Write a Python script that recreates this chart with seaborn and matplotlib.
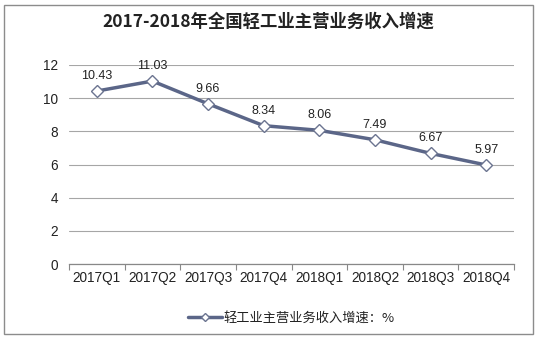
import matplotlib
matplotlib.use("Agg")
import matplotlib.pyplot as plt
import seaborn as sns
import pandas as pd
from matplotlib.patches import Rectangle

quarters = ["2017Q1", "2017Q2", "2017Q3", "2017Q4", "2018Q1", "2018Q2", "2018Q3", "2018Q4"]
growth = [10.43, 11.03, 9.66, 8.34, 8.06, 7.49, 6.67, 5.97]
series_name = "轻工业主营业务收入增速：%"
title = "2017-2018年全国轻工业主营业务收入增速"

sns.set_theme(style="white")
plt.rcParams["font.family"] = ["Noto Sans CJK SC", "DejaVu Sans"]

df = pd.DataFrame({"quarter": quarters, "growth": growth})
df["pos"] = range(len(quarters))

fig = plt.figure(figsize=(5.37, 3.38), dpi=100)
ax = fig.add_axes([69 / 537, 1 - 264 / 338, (514 - 69) / 537, (264 - 65) / 338])

line_color = "#5b6688"
sns.lineplot(data=df, x="pos", y="growth", ax=ax, color=line_color, linewidth=2.5,
             marker="D", markersize=6, markerfacecolor="white",
             markeredgecolor="#6b7490", markeredgewidth=1.0, label=series_name)

for x, y in zip(df["pos"], df["growth"]):
    ax.text(x, y + 0.55, f"{y:.2f}", ha="center", va="bottom", fontsize=9,
            color="#222222", family="Liberation Sans")

ax.set_xlim(-0.5, len(quarters) - 0.5)
ax.set_ylim(0, 12)
ax.set_yticks(range(0, 13, 2))
ax.set_xticks(range(len(quarters)))
ax.set_xticklabels(quarters)
ax.set_xlabel("")
ax.set_ylabel("")
for lbl in ax.get_xticklabels() + ax.get_yticklabels():
    lbl.set_family("Liberation Sans")
    lbl.set_fontsize(9.8)
    lbl.set_color("#222222")

ax.grid(axis="y", color="#a6a6a6", linewidth=0.8)
ax.set_axisbelow(True)
for side in ["top", "right", "left"]:
    ax.spines[side].set_visible(False)
ax.spines["bottom"].set_color("#888888")
ax.spines["bottom"].set_linewidth(0.9)

# minor ticks on category boundaries
ax.set_xticks([i - 0.5 for i in range(len(quarters) + 1)], minor=True)
ax.tick_params(axis="x", which="minor", length=4, color="#888888", width=0.8, bottom=True)
ax.tick_params(axis="x", which="major", length=0, pad=5)
ax.tick_params(axis="y", length=0, pad=8)

leg = ax.legend(loc="upper center", bbox_to_anchor=(0.5, -0.18), frameon=False,
                fontsize=9.5, handlelength=2.6, handletextpad=0.1)
for t in leg.get_texts():
    t.set_color("#222222")
for h in leg.legend_handles:
    h.set_markersize(4.5)

fig.text(0.5, 1 - 22 / 338, title, ha="center", va="center", fontsize=12.5,
         fontweight="bold", color="#222222")

fig.patches.append(Rectangle((4 / 537, 4 / 338), 529 / 537, 329 / 338, transform=fig.transFigure,
                             fill=False, edgecolor="#8c8c8c", linewidth=1.0))

fig.savefig("out.png", dpi=100)
